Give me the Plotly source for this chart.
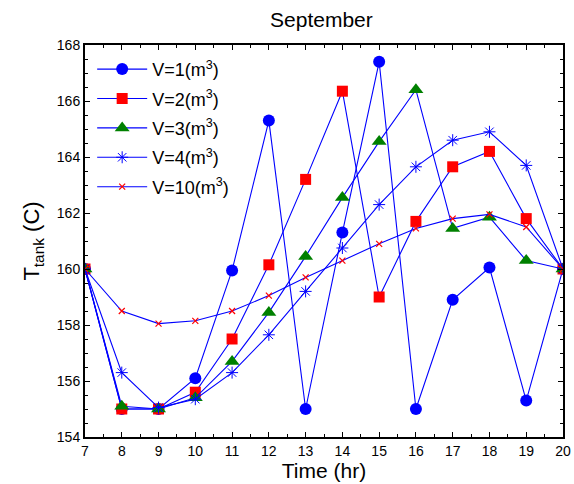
import plotly.graph_objects as go

hours = [7, 8, 9, 10, 11, 12, 13, 14, 15, 16, 17, 18, 19, 20]
v1 = [160, 155.0, 155.0, 156.1, 159.95, 165.3, 155.0, 161.3, 167.4, 155.0, 158.9, 160.05, 155.3, 160]
v2 = [160, 155.0, 155.0, 155.6, 157.5, 160.15, 163.2, 166.35, 159.0, 161.7, 163.65, 164.2, 161.8, 160]
v3 = [160, 155.1, 155.0, 155.4, 156.7, 158.45, 160.45, 162.55, 164.55, 166.4, 161.45, 161.85, 160.3, 160]
v4 = [160, 156.3, 155.05, 155.35, 156.3, 157.65, 159.2, 160.75, 162.3, 163.65, 164.6, 164.9, 163.7, 160]
v10 = [160, 158.5, 158.05, 158.15, 158.5, 159.05, 159.7, 160.3, 160.9, 161.45, 161.8, 161.95, 161.5, 160]
names = ["V=1(m<sup>3</sup>)", "V=2(m<sup>3</sup>)", "V=3(m<sup>3</sup>)", "V=4(m<sup>3</sup>)", "V=10(m<sup>3</sup>)"]

styles = [
    dict(symbol="circle", size=12, color="#0000ff", line=dict(width=0)),
    dict(symbol="square", size=11, color="#ff0000", line=dict(width=0)),
    dict(symbol="triangle-up", size=13, color="#008000", line=dict(width=0)),
    dict(symbol="asterisk-open", size=10, color="#0000ff", line=dict(width=1, color="#0000ff")),
    dict(symbol="x-thin-open", size=6, color="#ff0000", line=dict(width=1.2, color="#ff0000")),
]

fig = go.Figure()
for i, (name, ys, mk) in enumerate(zip(names, [v1, v2, v3, v4, v10], styles)):
    fig.add_trace(go.Scatter(x=hours, y=ys, mode="lines+markers", name=name, legendgroup=f"g{i}",
                             line=dict(color="#0000ff", width=1.1), marker=mk))

axis_common = dict(showline=True, linecolor="black", linewidth=2, mirror="ticks", automargin=False,
                   ticks="inside", ticklen=5, tickcolor="black", showgrid=False, zeroline=False,
                   tickfont=dict(size=14, color="black"))
fig.update_xaxes(range=[7, 20], dtick=1, title=dict(text="Time (hr)", font=dict(size=21), standoff=0),
                 minor=dict(ticks="inside", dtick=0.5, ticklen=3, tickcolor="black"), **axis_common)
fig.update_yaxes(range=[154, 168], dtick=2, title=dict(text="T<sub>tank</sub> (C)", font=dict(size=22), standoff=11),
                 minor=dict(ticks="inside", dtick=0.5, ticklen=3, tickcolor="black"), **axis_common)

fig.update_layout(
    width=574, height=484,
    margin=dict(l=85, r=11, t=45, b=47),
    paper_bgcolor="white", plot_bgcolor="white",
    font=dict(family="Liberation Sans, Arial, sans-serif", color="black"),
    title=dict(text="September", x=0.56, xanchor="center", y=0.959, yanchor="middle", font=dict(size=21)),
    legend=dict(x=0.015, y=0.985, xanchor="left", yanchor="top", bgcolor="rgba(255,255,255,0)",
                font=dict(size=18), tracegroupgap=3, itemwidth=50),
    showlegend=True,
)

fig.write_html("out.html", config={"displayModeBar": False},
               post_script="document.body.style.margin='0px';")
